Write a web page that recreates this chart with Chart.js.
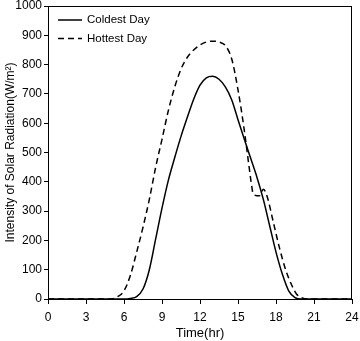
<!DOCTYPE html>
<html>
<head>
<meta charset="utf-8">
<script src="https://cdn.jsdelivr.net/npm/chart.js@4.4.0/dist/chart.umd.min.js"></script>
<style>
  html, body { margin: 0; padding: 0; background: #fff; }
  #wrap { width: 360px; height: 341px; }
</style>
</head>
<body>
<div id="wrap"><canvas id="chartRadiacao"></canvas></div>
<script>
// coldest day (solid)
var coldHours  = [0, 6, 6.5, 7, 7.5, 8, 8.5, 9, 9.5, 10, 10.5, 11, 11.5, 12, 12.5, 13, 13.5, 14, 14.5, 15, 15.5, 16, 16.5, 17, 17.5, 18, 18.5, 19, 19.5, 20, 24];
var coldValues = [0, 0, 2, 8, 34, 100, 205, 310, 405, 482, 555, 620, 682, 730, 755, 760, 750, 724, 680, 612, 545, 480, 415, 340, 250, 160, 85, 28, 5, 0, 0];

// hottest day (dashed)
var hotHours  = [0, 5, 5.5, 6, 6.5, 7, 7.5, 8, 8.5, 9, 9.5, 10, 10.5, 11, 11.5, 12, 12.5, 13, 13.5, 14, 14.5, 15, 15.5, 15.8, 16.1, 16.2, 16.7, 17, 17.3, 17.8, 18.3, 18.8, 19.3, 19.6, 20, 20.5, 24];
var hotValues = [0, 0, 8, 28, 80, 160, 245, 340, 450, 545, 643, 723, 785, 825, 850, 867, 877, 880, 877, 865, 820, 714, 575, 476, 380, 358, 352, 375, 350, 260, 170, 95, 42, 18, 5, 0, 0];

var xTicks = [0, 3, 6, 9, 12, 15, 18, 21, 24];

function pontos(xs, ys) {
    return xs.map(function (x, i) { return { x: x, y: ys[i] }; });
}

var fonte = "'Liberation Sans', Arial, sans-serif";

// moldura (top/right) + legenda dentro do gráfico
const molduraLegenda = {
    id: 'molduraLegenda',
    afterDraw: function (chart) {
        const ctx = chart.ctx;
        const a = chart.chartArea;
        ctx.save();
        ctx.strokeStyle = '#000';
        ctx.lineWidth = 1;
        ctx.strokeRect(a.left + 0.5, a.top + 0.5, a.right - a.left - 1, a.bottom - a.top);

        ctx.font = '11.5px ' + fonte;
        ctx.fillStyle = '#000';
        ctx.textBaseline = 'middle';
        chart.data.datasets.forEach(function (ds, i) {
            const y = a.top + 14 + i * 18.5;
            ctx.beginPath();
            ctx.lineWidth = 1.5;
            ctx.setLineDash(ds.borderDash || []);
            ctx.moveTo(a.left + 10, y);
            ctx.lineTo(a.left + 34, y);
            ctx.stroke();
            ctx.setLineDash([]);
            ctx.fillText(ds.label, a.left + 39, y);
        });
        ctx.restore();
    }
};

new Chart(document.getElementById('chartRadiacao'), {
    type: 'line',
    data: {
        datasets: [{
            label: 'Coldest Day',
            data: pontos(coldHours, coldValues),
            borderColor: '#000',
            borderWidth: 1.5,
            pointRadius: 0,
            cubicInterpolationMode: 'monotone'
        }, {
            label: 'Hottest Day',
            data: pontos(hotHours, hotValues),
            borderColor: '#000',
            borderWidth: 1.5,
            borderDash: [6, 4],
            pointRadius: 0,
            cubicInterpolationMode: 'monotone'
        }]
    },
    options: {
        responsive: true,
        maintainAspectRatio: false,
        animation: false,
        layout: { padding: { top: 6, right: 8, left: 3, bottom: 0 } },
        plugins: {
            legend: { display: false },
            tooltip: { enabled: false }
        },
        scales: {
            x: {
                type: 'linear',
                min: 0,
                max: 24,
                afterBuildTicks: function (s) { s.ticks = xTicks.map(function (v) { return { value: v }; }); },
                afterFit: function (s) { s.height = 42; s.paddingLeft = 0; s.paddingRight = 0; },
                grid: { drawOnChartArea: false, drawTicks: true, tickLength: 5, color: '#000' },
                border: { color: '#000', width: 1 },
                ticks: { color: '#000', font: { family: fonte, size: 12 }, padding: 6, maxRotation: 0 },
                title: { display: true, text: 'Time(hr)', color: '#000', font: { family: fonte, size: 13 }, padding: { top: 4, bottom: 0 } }
            },
            y: {
                min: 0,
                max: 1000,
                ticks: {
                    stepSize: 100, color: '#000', font: { family: fonte, size: 12 }, padding: 2,
                    callback: function (v) { return String(v); }
                },
                afterFit: function (s) { s.width = 45; s.paddingTop = 0; s.paddingBottom = 0; },
                grid: { drawOnChartArea: false, drawTicks: true, tickLength: 4, color: '#000' },
                border: { color: '#000', width: 1 },
                title: { display: true, text: 'Intensity of Solar Radiation(W/m²)', color: '#000', font: { family: fonte, size: 12 }, padding: { top: 0, bottom: 0 } }
            }
        }
    },
    plugins: [molduraLegenda]
});
</script>
</body>
</html>
